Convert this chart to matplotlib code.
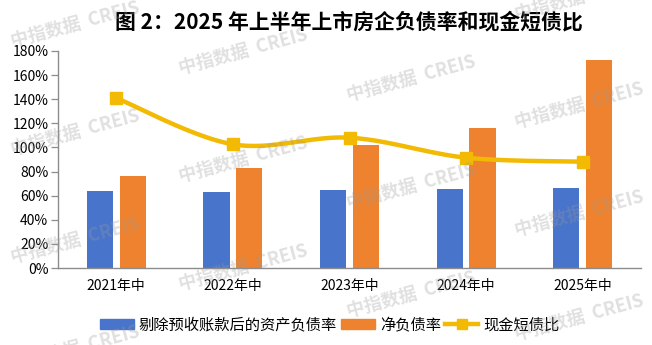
import matplotlib
matplotlib.use("Agg")
import matplotlib.pyplot as plt
import matplotlib.patches as mpatches
import matplotlib.lines as mlines
import numpy as np

plt.rcParams["font.family"] = ["Noto Sans CJK SC", "DejaVu Sans"]

C_BLUE = "#4874CB"
C_ORANGE = "#EE822F"
C_GOLD = "#F2BA02"
C_AXIS = "#8C8C8C"

# ---------------------------------------------------------------------------
# Data (%)
# ---------------------------------------------------------------------------
periods = ["2021年中", "2022年中", "2023年中", "2024年中", "2025年中"]
debt_ratio_ex_adv = [63.9, 63.0, 64.7, 65.5, 66.4]     # 剔除预收账款后的资产负债率
net_gearing = [76.3, 83.0, 102.0, 116.0, 172.5]        # 净负债率
cash_short_debt = [141.0, 102.6, 108.1, 91.5, 88.2]    # 现金短债比
yticks = [0, 20, 40, 60, 80, 100, 120, 140, 160, 180]

series_names = ["剔除预收账款后的资产负债率", "净负债率", "现金短债比"]
title = "图 2：2025 年上半年上市房企负债率和现金短债比"
watermark = "中指数据  CREIS"


def smooth(xs, ys, n=40):
    """Catmull-Rom curve through the points (Excel-like smoothed line)."""
    xs = np.asarray(xs, float)
    ys = np.asarray(ys, float)
    px = np.concatenate([[xs[0]], xs, [xs[-1]]])
    py = np.concatenate([[ys[0]], ys, [ys[-1]]])
    out_x, out_y = [], []
    t = np.linspace(0, 1, n)
    for i in range(1, len(px) - 2):
        p0, p1, p2, p3 = (np.array([px[j], py[j]]) for j in (i - 1, i, i + 1, i + 2))
        c1 = p1 + (p2 - p0) / 6
        c2 = p2 - (p3 - p1) / 6
        b = ((1 - t) ** 3)[:, None] * p1 + (3 * (1 - t) ** 2 * t)[:, None] * c1 \
            + (3 * (1 - t) * t ** 2)[:, None] * c2 + (t ** 3)[:, None] * p2
        out_x.extend(b[:, 0])
        out_y.extend(b[:, 1])
    return np.array(out_x), np.array(out_y)


fig = plt.figure(figsize=(6.52, 3.45), dpi=100)
ax = fig.add_axes([58 / 652, 1 - 268 / 345, 583 / 652, 217 / 345])

x = np.arange(len(periods))
w = 0.225
off = 0.14
ax.bar(x - off, debt_ratio_ex_adv, w, color=C_BLUE, zorder=2)
ax.bar(x + off, net_gearing, w, color=C_ORANGE, zorder=2)

sx, sy = smooth(x, cash_short_debt)
ax.plot(sx, sy, color=C_GOLD, lw=3.2, zorder=3, solid_capstyle="round")
ax.plot(x, cash_short_debt, ls="none", marker="s", ms=8, color=C_GOLD, zorder=4)

ax.set_xlim(-0.5, len(periods) - 0.5)
ax.set_ylim(0, 180)
ax.set_yticks(yticks)
ax.set_yticklabels([f"{v}%" for v in yticks], fontsize=10)
ax.set_xticks(x)
ax.set_xticklabels(periods, fontsize=10)
ax.tick_params(axis="x", length=0, pad=8)
ax.tick_params(axis="y", length=5, width=0.9, color=C_AXIS, pad=2)
for s in ("top", "right"):
    ax.spines[s].set_visible(False)
for s in ("left", "bottom"):
    ax.spines[s].set_color(C_AXIS)
    ax.spines[s].set_linewidth(1.0)

fig.text(349 / 652, 1 - 22 / 345, title, ha="center", va="center",
         fontsize=15, fontweight="bold")

handles = [
    mpatches.Patch(color=C_BLUE),
    mpatches.Patch(color=C_ORANGE),
    mlines.Line2D([], [], color=C_GOLD, lw=3.2, marker="s", ms=7),
]
fig.legend(handles, series_names, loc="center", ncol=3, frameon=False,
           bbox_to_anchor=(330 / 652, 1 - 325 / 345), fontsize=11,
           handlelength=2.2, handleheight=0.65, handletextpad=0.35,
           columnspacing=0.25)

# faint diagonal watermark grid
for i in range(4):
    for k in range(-1, 4):
        wx = 75 + 168 * i
        wy = 25 + 27 * i + 108 * k
        if i == 3 and k == 2:
            wy -= 4
        if -10 < wy < 355:
            fig.text(wx / 652, 1 - wy / 345, watermark, ha="center", va="center",
                     rotation=15, fontsize=13, fontweight="bold",
                     color="#9a9a9a", alpha=0.3, zorder=10)

fig.savefig("out.png", dpi=100)
